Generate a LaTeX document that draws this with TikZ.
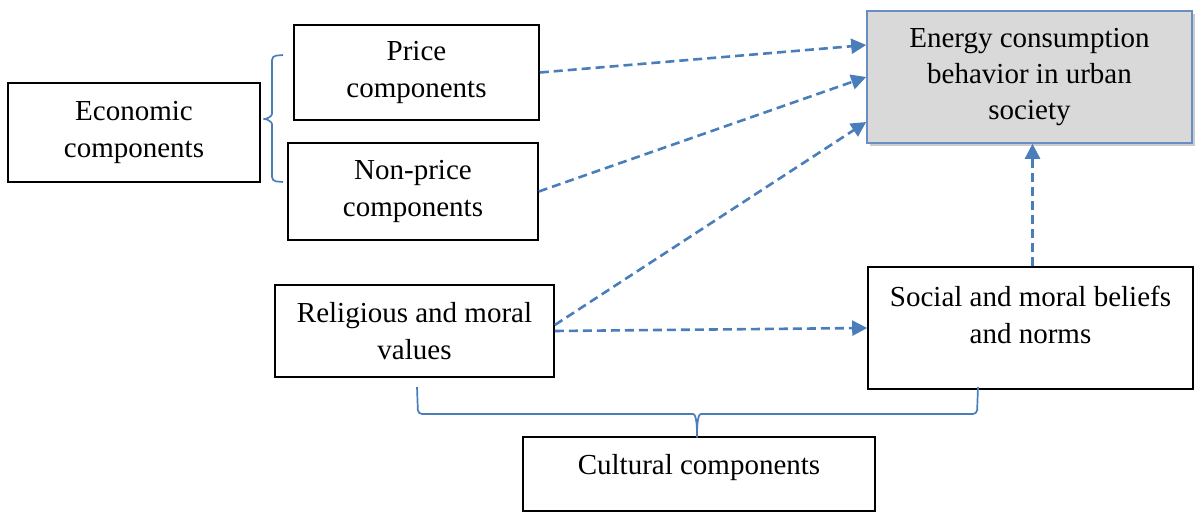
\documentclass[tikz,border=0pt]{standalone}
\usepackage{fontspec}
\setmainfont{Liberation Serif}
\usepackage{xcolor}
\usetikzlibrary{arrows.meta,shadows}
\definecolor{arrowblue}{RGB}{74,126,187}
\definecolor{boxblue}{RGB}{105,142,196}
\definecolor{boxgray}{RGB}{217,217,217}

\begin{document}
\begin{tikzpicture}[x=0.5pt,y=-0.5pt,
	txt/.style={font=\fontsize{14.5}{18.2}\selectfont,align=center},
	box/.style={txt,draw,line width=0.8pt,inner sep=0pt},
	dasharrow/.style={arrowblue,line width=1.3pt,dash pattern=on 4.5pt off 2.5pt,
		-{Triangle[length=7.5pt,width=7.5pt]}},
	brc/.style={arrowblue,line width=0.85pt,rounded corners=2pt}]
				\useasboundingbox (0,0) rectangle (1195,513);
				
				% left column
				\node[box,minimum width=126pt,minimum height=49.5pt] (econ) at (134,132.5) {Economic\\components};
				\node[box,minimum width=122.5pt,minimum height=47.5pt] (price) at (416.5,72.5) {Price\\components};
				\node[box,minimum width=125pt,minimum height=48.5pt] (nonprice) at (413,191.5) {Non-price\\components};
				\node[box,minimum width=139.5pt,minimum height=46pt] (relig) at (414.5,331) {Religious and moral\\values};
				
				% right column
				\node[box,draw=boxblue,fill=boxgray,minimum width=162.5pt,minimum height=66pt,
					drop shadow={shadow xshift=1.5pt,shadow yshift=-1.5pt,fill=black!40,opacity=0.5}]
					(energy) at (1029.5,77) {Energy consumption\\behavior in urban\\society};
				\node[box,minimum width=162.5pt,minimum height=61pt] (social) at (1030.5,328) {};
				\node[txt] (socialtext) at (1030.5,315) {Social and moral beliefs\\and norms};
				
				% bottom
				\node[box,minimum width=176pt,minimum height=37pt,text depth=10pt] (cult) at (699,474) {Cultural components};
				
				% braces
				\draw[brc] (283,55) -- (272,56) -- (272,110)
					.. controls (272,116) and (267,119) .. (261,119)
					.. controls (267,119) and (272,122) .. (272,128) -- (272,181) -- (283,182);
				\draw[brc] (417,387) -- (418,414) -- (689,414)
					.. controls (695,414) and (697,418) .. (697,440)
					.. controls (697,418) and (699,414) .. (705,414) -- (977,414) -- (978,387);
				
				\coordinate (e1) at ([yshift=16pt]energy.west);
				\coordinate (e3) at ([yshift=-22.5pt]energy.west);
				\coordinate (r1) at ([yshift=3pt]relig.east);
				\coordinate (s1) at ([xshift=1pt]social.north);
				\foreach \x/\y in
				{price.east/e1, nonprice.east/energy.west, r1/e3, relig.east/social.west, s1/s1|-energy.south}{
					\draw[dasharrow] (\x)--(\y);
				}
			\end{tikzpicture}
\end{document}
